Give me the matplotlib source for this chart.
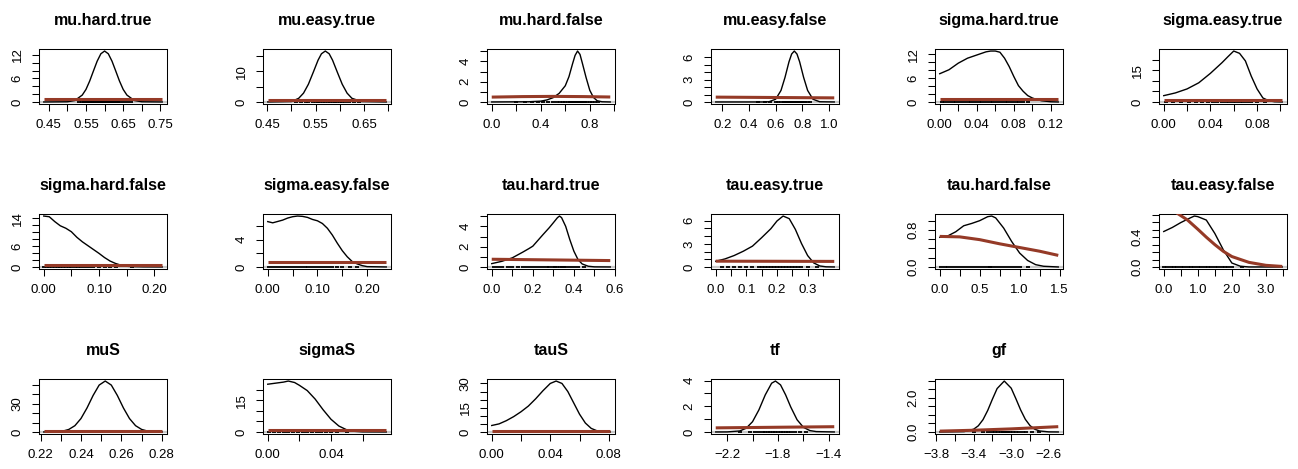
import matplotlib
matplotlib.use("Agg")
import matplotlib.pyplot as plt

plt.rcParams['font.family'] = ['Liberation Sans', 'DejaVu Sans']

PRIOR = '#953a27'

# ---- posterior densities (x, y), prior curves, rug samples, ticks ----
mu_hard_true_x = [0.4365, 0.50, 0.52, 0.54, 0.55, 0.56, 0.57, 0.58, 0.59, 0.60, 0.61, 0.62, 0.63, 0.64, 0.65, 0.66, 0.68, 0.70, 0.755]
mu_hard_true_y = [0.0, 0.05, 0.37, 1.76, 3.2, 5.35, 7.9, 10.4, 12.3, 13.0, 12.3, 10.4, 7.9, 5.35, 3.2, 1.76, 0.37, 0.05, 0.0]
mu_hard_true_px = [0.4365, 0.755]
mu_hard_true_py = [0.8, 0.8]
mu_hard_true_rug = [0.53, 0.54, 0.545, 0.55, 0.555, 0.56, 0.565, 0.57, 0.575, 0.58, 0.585, 0.59, 0.595, 0.60, 0.605, 0.61, 0.615, 0.62, 0.625, 0.63, 0.635, 0.64, 0.65, 0.66, 0.67]
mu_hard_true_xt = [0.45, 0.50, 0.55, 0.60, 0.65, 0.70, 0.75]
mu_hard_true_xl = ["0.45", "", "0.55", "", "0.65", "", "0.75"]
mu_hard_true_yt = [0, 2, 4, 6, 8, 10, 12]
mu_hard_true_yl = ["0", "", "", "6", "", "", "12"]

mu_easy_true_x = [0.451, 0.50, 0.515, 0.525, 0.535, 0.545, 0.555, 0.562, 0.57, 0.578, 0.585, 0.595, 0.605, 0.615, 0.625, 0.645, 0.696]
mu_easy_true_y = [0.0, 0.13, 1.2, 2.9, 5.8, 9.7, 13.7, 15.8, 16.7, 15.8, 13.7, 9.7, 5.8, 2.9, 1.2, 0.13, 0.0]
mu_easy_true_px = [0.451, 0.696]
mu_easy_true_py = [0.75, 0.75]
mu_easy_true_rug = [0.51, 0.52, 0.53, 0.535, 0.545, 0.55, 0.555, 0.56, 0.565, 0.57, 0.575, 0.58, 0.585, 0.59, 0.595, 0.60, 0.605, 0.61, 0.62, 0.63, 0.64]
mu_easy_true_xt = [0.45, 0.50, 0.55, 0.60, 0.65, 0.70]
mu_easy_true_xl = ["0.45", "", "0.55", "", "0.65", ""]
mu_easy_true_yt = [0, 5, 10, 15]
mu_easy_true_yl = ["0", "", "10", ""]

mu_hard_false_x = [0.0, 0.3, 0.4, 0.45, 0.5, 0.55, 0.6, 0.63, 0.66, 0.68, 0.70, 0.72, 0.74, 0.77, 0.80, 0.83, 0.86, 0.9, 0.967]
mu_hard_false_y = [0.0, 0.02, 0.08, 0.2, 0.42, 0.85, 1.6, 2.5, 3.8, 4.6, 5.03, 4.7, 3.8, 2.4, 1.15, 0.45, 0.12, 0.02, 0.0]
mu_hard_false_px = [0.0, 0.25, 0.5, 0.75, 0.967]
mu_hard_false_py = [0.48, 0.53, 0.55, 0.53, 0.49]
mu_hard_false_rug = [0.2, 0.27, 0.33, 0.38, 0.42, 0.46, 0.5, 0.53, 0.56, 0.58, 0.6, 0.62, 0.64, 0.65, 0.66, 0.67, 0.68, 0.69, 0.7, 0.71, 0.72, 0.73, 0.74, 0.75, 0.76, 0.78, 0.8, 0.82, 0.84, 0.87]
mu_hard_false_xt = [0.0, 0.2, 0.4, 0.6, 0.8, 1.0]
mu_hard_false_xl = ["0.0", "", "0.4", "", "0.8", ""]
mu_hard_false_yt = [0, 1, 2, 3, 4, 5]
mu_hard_false_yl = ["0", "", "2", "", "4", ""]

mu_easy_false_x = [0.15, 0.5, 0.55, 0.6, 0.64, 0.67, 0.70, 0.72, 0.74, 0.76, 0.78, 0.81, 0.84, 0.88, 0.93, 1.04]
mu_easy_false_y = [0.0, 0.0, 0.03, 0.37, 1.55, 3.3, 5.4, 6.45, 6.85, 6.45, 5.4, 3.3, 1.55, 0.37, 0.03, 0.0]
mu_easy_false_px = [0.15, 1.04]
mu_easy_false_py = [0.65, 0.55]
mu_easy_false_rug = [0.47, 0.52, 0.56, 0.6, 0.62, 0.64, 0.66, 0.67, 0.68, 0.69, 0.7, 0.71, 0.72, 0.73, 0.74, 0.75, 0.76, 0.77, 0.78, 0.79, 0.8, 0.81, 0.82, 0.84, 0.86]
mu_easy_false_xt = [0.2, 0.4, 0.6, 0.8, 1.0]
mu_easy_false_xl = ["0.2", "0.4", "0.6", "0.8", "1.0"]
mu_easy_false_yt = [0, 1, 2, 3, 4, 5, 6]
mu_easy_false_yl = ["0", "", "", "3", "", "", "6"]

sigma_hard_true_x = [0.0, 0.01, 0.02, 0.03, 0.04, 0.05, 0.055, 0.06, 0.065, 0.07, 0.075, 0.08, 0.085, 0.09, 0.095, 0.1, 0.105, 0.11, 0.12, 0.128]
sigma_hard_true_y = [7.1, 8.1, 9.75, 11.0, 11.8, 12.6, 12.8, 12.8, 12.5, 11.0, 8.9, 6.4, 4.1, 2.7, 1.6, 1.0, 0.6, 0.3, 0.05, 0.0]
sigma_hard_true_px = [0.0, 0.128]
sigma_hard_true_py = [0.75, 0.75]
sigma_hard_true_rug = [0.002, 0.006, 0.01, 0.014, 0.018, 0.022, 0.026, 0.03, 0.034, 0.038, 0.042, 0.046, 0.05, 0.054, 0.058, 0.062, 0.066, 0.07, 0.074, 0.078, 0.082, 0.086, 0.09, 0.095]
sigma_hard_true_xt = [0.0, 0.02, 0.04, 0.06, 0.08, 0.10, 0.12]
sigma_hard_true_xl = ["0.00", "", "0.04", "", "0.08", "", "0.12"]
sigma_hard_true_yt = [0, 2, 4, 6, 8, 10, 12]
sigma_hard_true_yl = ["0", "", "", "6", "", "", "12"]

sigma_easy_true_x = [0.0, 0.01, 0.02, 0.03, 0.04, 0.05, 0.055, 0.06, 0.065, 0.07, 0.075, 0.08, 0.085, 0.09, 0.095, 0.1016]
sigma_easy_true_y = [3.0, 4.3, 6.2, 9.1, 13.6, 18.7, 21.5, 24.2, 23.1, 19.5, 12.3, 6.2, 1.9, 0.6, 0.1, 0.0]
sigma_easy_true_px = [0.0, 0.1016]
sigma_easy_true_py = [1.1, 1.1]
sigma_easy_true_rug = [0.002, 0.008, 0.015, 0.022, 0.028, 0.033, 0.038, 0.042, 0.046, 0.05, 0.053, 0.056, 0.059, 0.062, 0.065, 0.068, 0.071, 0.075, 0.08, 0.087]
sigma_easy_true_xt = [0.0, 0.02, 0.04, 0.06, 0.08, 0.10]
sigma_easy_true_xl = ["0.00", "", "0.04", "", "0.08", ""]
sigma_easy_true_yt = [0, 5, 10, 15, 20]
sigma_easy_true_yl = ["0", "", "", "15", ""]

sigma_hard_false_x = [0.0, 0.01, 0.02, 0.03, 0.04, 0.05, 0.06, 0.07, 0.08, 0.09, 0.1, 0.11, 0.12, 0.13, 0.14, 0.15, 0.16, 0.18, 0.2145]
sigma_hard_false_y = [14.6, 14.4, 13.0, 11.8, 11.1, 10.1, 8.5, 7.2, 6.1, 5.0, 3.9, 2.7, 1.7, 1.0, 0.5, 0.2, 0.1, 0.03, 0.0]
sigma_hard_false_px = [0.0, 0.2145]
sigma_hard_false_py = [0.7, 0.7]
sigma_hard_false_rug = [0.001, 0.005, 0.01, 0.015, 0.02, 0.025, 0.03, 0.035, 0.04, 0.045, 0.05, 0.056, 0.062, 0.068, 0.075, 0.082, 0.09, 0.1, 0.11, 0.12, 0.13, 0.16]
sigma_hard_false_xt = [0.0, 0.05, 0.10, 0.15, 0.20]
sigma_hard_false_xl = ["0.00", "", "0.10", "", "0.20"]
sigma_hard_false_yt = [0, 2, 4, 6, 8, 10, 12, 14]
sigma_hard_false_yl = ["0", "", "", "6", "", "", "", "14"]

sigma_easy_false_x = [0.0, 0.01, 0.02, 0.03, 0.04, 0.05, 0.06, 0.07, 0.08, 0.09, 0.1, 0.11, 0.12, 0.13, 0.14, 0.15, 0.16, 0.17, 0.18, 0.19, 0.2, 0.2385]
sigma_easy_false_y = [6.68, 6.5, 6.7, 6.9, 7.2, 7.4, 7.5, 7.45, 7.3, 7.0, 6.8, 6.4, 5.7, 4.7, 3.5, 2.4, 1.5, 0.8, 0.45, 0.2, 0.05, 0.0]
sigma_easy_false_px = [0.0, 0.2385]
sigma_easy_false_py = [0.73, 0.73]
sigma_easy_false_rug = [0.002, 0.01, 0.018, 0.026, 0.034, 0.042, 0.05, 0.058, 0.066, 0.074, 0.082, 0.09, 0.098, 0.106, 0.114, 0.122, 0.13, 0.14, 0.15, 0.165, 0.18]
sigma_easy_false_xt = [0.0, 0.05, 0.10, 0.15, 0.20]
sigma_easy_false_xl = ["0.00", "", "0.10", "", "0.20"]
sigma_easy_false_yt = [0, 2, 4, 6]
sigma_easy_false_yl = ["0", "", "4", ""]

tau_hard_true_x = [0.0, 0.05, 0.1, 0.15, 0.18, 0.2, 0.25, 0.28, 0.3, 0.32, 0.33, 0.34, 0.36, 0.38, 0.4, 0.42, 0.44, 0.47, 0.5, 0.577]
tau_hard_true_y = [0.33, 0.56, 0.9, 1.45, 1.8, 2.05, 3.2, 3.87, 4.36, 4.86, 5.02, 4.86, 4.0, 2.7, 1.55, 0.73, 0.3, 0.07, 0.01, 0.0]
tau_hard_true_px = [0.0, 0.577]
tau_hard_true_py = [0.76, 0.63]
tau_hard_true_rug = [0.01, 0.03, 0.05, 0.08, 0.1, 0.13, 0.15, 0.17, 0.19, 0.21, 0.23, 0.25, 0.27, 0.28, 0.3, 0.31, 0.32, 0.33, 0.34, 0.35, 0.36, 0.38, 0.4, 0.42, 0.45]
tau_hard_true_xt = [0.0, 0.1, 0.2, 0.3, 0.4, 0.5, 0.6]
tau_hard_true_xl = ["0.0", "", "0.2", "", "0.4", "", "0.6"]
tau_hard_true_yt = [0, 1, 2, 3, 4, 5]
tau_hard_true_yl = ["0", "", "2", "", "4", ""]

tau_easy_true_x = [0.0, 0.03, 0.06, 0.09, 0.12, 0.15, 0.18, 0.2, 0.22, 0.24, 0.26, 0.28, 0.3, 0.32, 0.34, 0.36, 0.387]
tau_easy_true_y = [0.74, 1.04, 1.48, 2.04, 2.7, 3.8, 4.96, 5.96, 6.6, 6.26, 4.87, 3.04, 1.48, 0.52, 0.13, 0.02, 0.0]
tau_easy_true_px = [0.0, 0.387]
tau_easy_true_py = [0.75, 0.72]
tau_easy_true_rug = [0.02, 0.04, 0.06, 0.08, 0.1, 0.12, 0.14, 0.15, 0.16, 0.17, 0.18, 0.19, 0.2, 0.21, 0.22, 0.23, 0.24, 0.25, 0.26, 0.27, 0.28, 0.3, 0.33]
tau_easy_true_xt = [0.0, 0.05, 0.1, 0.15, 0.2, 0.25, 0.3, 0.35]
tau_easy_true_xl = ["0.0", "", "0.1", "", "0.2", "", "0.3", ""]
tau_easy_true_yt = [0, 1, 2, 3, 4, 5, 6]
tau_easy_true_yl = ["0", "", "", "3", "", "", "6"]

tau_hard_false_x = [0.0, 0.1, 0.2, 0.3, 0.4, 0.5, 0.6, 0.65, 0.7, 0.8, 0.9, 1.0, 1.1, 1.2, 1.3, 1.483]
tau_hard_false_y = [0.64, 0.67, 0.76, 0.89, 0.94, 1.0, 1.086, 1.1, 1.06, 0.84, 0.55, 0.3, 0.14, 0.05, 0.015, 0.0]
tau_hard_false_px = [0.0, 0.25, 0.5, 0.75, 1.0, 1.25, 1.483]
tau_hard_false_py = [0.66, 0.65, 0.59, 0.5, 0.42, 0.34, 0.25]
tau_hard_false_rug = [0.02, 0.06, 0.1, 0.15, 0.2, 0.25, 0.3, 0.35, 0.4, 0.45, 0.5, 0.55, 0.6, 0.63, 0.66, 0.7, 0.75, 0.8, 0.85, 0.9, 0.95, 1.0, 1.1]
tau_hard_false_xt = [0.0, 0.25, 0.5, 0.75, 1.0, 1.25, 1.5]
tau_hard_false_xl = ["0.0", "", "0.5", "", "1.0", "", "1.5"]
tau_hard_false_yt = [0.0, 0.2, 0.4, 0.6, 0.8, 1.0]
tau_hard_false_yl = ["0.0", "", "", "", "0.8", ""]

tau_easy_false_x = [0.0, 0.25, 0.5, 0.75, 0.9, 1.0, 1.25, 1.5, 1.75, 2.0, 2.25, 2.5, 3.48]
tau_easy_false_y = [0.476, 0.53, 0.596, 0.653, 0.684, 0.676, 0.63, 0.45, 0.23, 0.053, 0.01, 0.0, 0.0]
tau_easy_false_px = [0.0, 0.25, 0.4, 0.7, 1.0, 1.25, 1.5, 1.75, 2.0, 2.5, 3.0, 3.48]
tau_easy_false_py = [0.8, 0.77, 0.72, 0.63, 0.507, 0.4, 0.3, 0.21, 0.14, 0.062, 0.022, 0.007]
tau_easy_false_rug = [0.02, 0.1, 0.2, 0.3, 0.4, 0.5, 0.6, 0.7, 0.8, 0.9, 1.0, 1.1, 1.2, 1.3, 1.4, 1.5, 1.6, 1.7, 1.8, 1.9, 2.0, 2.3]
tau_easy_false_xt = [0.0, 0.5, 1.0, 1.5, 2.0, 2.5, 3.0, 3.5]
tau_easy_false_xl = ["0.0", "", "1.0", "", "2.0", "", "3.0", ""]
tau_easy_false_yt = [0.0, 0.1, 0.2, 0.3, 0.4, 0.5, 0.6, 0.7]
tau_easy_false_yl = ["0.0", "", "", "", "0.4", "", "", ""]

muS_x = [0.2216, 0.226, 0.231, 0.234, 0.237, 0.24, 0.243, 0.246, 0.249, 0.252, 0.255, 0.258, 0.261, 0.264, 0.267, 0.27, 0.273, 0.278, 0.2802]
muS_y = [0.0, 0.1, 0.9, 2.7, 6.7, 14.3, 25.6, 38.9, 50.0, 54.3, 50.0, 38.9, 25.6, 14.3, 6.7, 2.7, 0.9, 0.1, 0.0]
muS_px = [0.2216, 0.2802]
muS_py = [0.7, 0.7]
muS_rug = [0.235, 0.24, 0.243, 0.245, 0.247, 0.249, 0.25, 0.251, 0.252, 0.253, 0.254, 0.255, 0.257, 0.259, 0.261, 0.263, 0.266, 0.27]
muS_xt = [0.22, 0.23, 0.24, 0.25, 0.26, 0.27, 0.28]
muS_xl = ["0.22", "", "0.24", "", "0.26", "", "0.28"]
muS_yt = [0, 10, 20, 30, 40, 50]
muS_yl = ["0", "", "", "30", "", ""]

sigmaS_x = [0.0, 0.005, 0.01, 0.013, 0.017, 0.02, 0.025, 0.03, 0.035, 0.04, 0.045, 0.05, 0.055, 0.06, 0.075]
sigmaS_y = [22.5, 23.0, 23.5, 24.0, 23.3, 22.0, 19.5, 15.5, 10.5, 6.0, 2.8, 1.0, 0.3, 0.05, 0.0]
sigmaS_px = [0.0, 0.075]
sigmaS_py = [0.7, 0.7]
sigmaS_rug = [0.001, 0.004, 0.007, 0.01, 0.013, 0.016, 0.019, 0.022, 0.025, 0.028, 0.031, 0.034, 0.037, 0.04, 0.044, 0.05]
sigmaS_xt = [0.0, 0.02, 0.04, 0.06]
sigmaS_xl = ["0.00", "", "0.04", ""]
sigmaS_yt = [0, 5, 10, 15, 20]
sigmaS_yl = ["0", "", "", "15", ""]

tauS_x = [0.0, 0.005, 0.01, 0.015, 0.02, 0.025, 0.03, 0.035, 0.04, 0.044, 0.048, 0.052, 0.056, 0.06, 0.064, 0.068, 0.072, 0.076, 0.081]
tauS_y = [4.0, 5.0, 7.0, 9.5, 12.5, 16.0, 20.5, 25.5, 30.0, 31.5, 30.0, 25.0, 18.0, 11.0, 5.5, 2.2, 0.7, 0.2, 0.0]
tauS_px = [0.0, 0.081]
tauS_py = [0.8, 0.8]
tauS_rug = [0.003, 0.01, 0.016, 0.022, 0.027, 0.031, 0.035, 0.038, 0.041, 0.043, 0.045, 0.047, 0.049, 0.051, 0.053, 0.056, 0.06, 0.065, 0.07]
tauS_xt = [0.0, 0.02, 0.04, 0.06, 0.08]
tauS_xl = ["0.00", "", "0.04", "", "0.08"]
tauS_yt = [0, 5, 10, 15, 20, 25, 30]
tauS_yl = ["0", "", "", "15", "", "", "30"]

tf_x = [-2.289, -2.2, -2.1, -2.05, -2.0, -1.95, -1.9, -1.85, -1.82, -1.78, -1.74, -1.7, -1.65, -1.6, -1.55, -1.5, -1.358]
tf_y = [0.0, 0.003, 0.08, 0.29, 0.8, 1.72, 2.89, 3.8, 3.97, 3.67, 2.89, 1.95, 0.95, 0.36, 0.11, 0.03, 0.0]
tf_px = [-2.289, -1.358]
tf_py = [0.32, 0.41]
tf_rug = [-2.1, -2.02, -1.98, -1.95, -1.92, -1.9, -1.88, -1.86, -1.84, -1.82, -1.8, -1.78, -1.76, -1.74, -1.72, -1.7, -1.67, -1.63, -1.58]
tf_xt = [-2.2, -2.0, -1.8, -1.6, -1.4]
tf_xl = ["\u22122.2", "", "\u22121.8", "", "\u22121.4"]
tf_yt = [0, 1, 2, 3, 4]
tf_yl = ["0", "", "2", "", "4"]

gf_x = [-3.76, -3.5, -3.4, -3.35, -3.3, -3.25, -3.2, -3.15, -3.074, -3.0, -2.95, -2.9, -2.85, -2.8, -2.75, -2.7, -2.6, -2.5]
gf_y = [0.0, 0.02, 0.16, 0.36, 0.72, 1.26, 1.92, 2.54, 2.98, 2.56, 1.94, 1.29, 0.74, 0.37, 0.16, 0.06, 0.005, 0.0]
gf_px = [-3.76, -3.4, -3.0, -2.5]
gf_py = [0.05, 0.1, 0.18, 0.31]
gf_rug = [-3.4, -3.3, -3.25, -3.2, -3.17, -3.14, -3.11, -3.09, -3.07, -3.05, -3.03, -3.01, -2.98, -2.95, -2.92, -2.88, -2.84, -2.78, -2.7]
gf_xt = [-3.8, -3.6, -3.4, -3.2, -3.0, -2.8, -2.6]
gf_xl = ["\u22123.8", "", "\u22123.4", "", "\u22123.0", "", "\u22122.6"]
gf_yt = [0.0, 0.5, 1.0, 1.5, 2.0, 2.5, 3.0]
gf_yl = ["0.0", "", "", "", "2.0", "", ""]

panels = [
    ("mu.hard.true", mu_hard_true_x, mu_hard_true_y, mu_hard_true_px, mu_hard_true_py, mu_hard_true_rug, mu_hard_true_xt, mu_hard_true_xl, mu_hard_true_yt, mu_hard_true_yl),
    ("mu.easy.true", mu_easy_true_x, mu_easy_true_y, mu_easy_true_px, mu_easy_true_py, mu_easy_true_rug, mu_easy_true_xt, mu_easy_true_xl, mu_easy_true_yt, mu_easy_true_yl),
    ("mu.hard.false", mu_hard_false_x, mu_hard_false_y, mu_hard_false_px, mu_hard_false_py, mu_hard_false_rug, mu_hard_false_xt, mu_hard_false_xl, mu_hard_false_yt, mu_hard_false_yl),
    ("mu.easy.false", mu_easy_false_x, mu_easy_false_y, mu_easy_false_px, mu_easy_false_py, mu_easy_false_rug, mu_easy_false_xt, mu_easy_false_xl, mu_easy_false_yt, mu_easy_false_yl),
    ("sigma.hard.true", sigma_hard_true_x, sigma_hard_true_y, sigma_hard_true_px, sigma_hard_true_py, sigma_hard_true_rug, sigma_hard_true_xt, sigma_hard_true_xl, sigma_hard_true_yt, sigma_hard_true_yl),
    ("sigma.easy.true", sigma_easy_true_x, sigma_easy_true_y, sigma_easy_true_px, sigma_easy_true_py, sigma_easy_true_rug, sigma_easy_true_xt, sigma_easy_true_xl, sigma_easy_true_yt, sigma_easy_true_yl),
    ("sigma.hard.false", sigma_hard_false_x, sigma_hard_false_y, sigma_hard_false_px, sigma_hard_false_py, sigma_hard_false_rug, sigma_hard_false_xt, sigma_hard_false_xl, sigma_hard_false_yt, sigma_hard_false_yl),
    ("sigma.easy.false", sigma_easy_false_x, sigma_easy_false_y, sigma_easy_false_px, sigma_easy_false_py, sigma_easy_false_rug, sigma_easy_false_xt, sigma_easy_false_xl, sigma_easy_false_yt, sigma_easy_false_yl),
    ("tau.hard.true", tau_hard_true_x, tau_hard_true_y, tau_hard_true_px, tau_hard_true_py, tau_hard_true_rug, tau_hard_true_xt, tau_hard_true_xl, tau_hard_true_yt, tau_hard_true_yl),
    ("tau.easy.true", tau_easy_true_x, tau_easy_true_y, tau_easy_true_px, tau_easy_true_py, tau_easy_true_rug, tau_easy_true_xt, tau_easy_true_xl, tau_easy_true_yt, tau_easy_true_yl),
    ("tau.hard.false", tau_hard_false_x, tau_hard_false_y, tau_hard_false_px, tau_hard_false_py, tau_hard_false_rug, tau_hard_false_xt, tau_hard_false_xl, tau_hard_false_yt, tau_hard_false_yl),
    ("tau.easy.false", tau_easy_false_x, tau_easy_false_y, tau_easy_false_px, tau_easy_false_py, tau_easy_false_rug, tau_easy_false_xt, tau_easy_false_xl, tau_easy_false_yt, tau_easy_false_yl),
    ("muS", muS_x, muS_y, muS_px, muS_py, muS_rug, muS_xt, muS_xl, muS_yt, muS_yl),
    ("sigmaS", sigmaS_x, sigmaS_y, sigmaS_px, sigmaS_py, sigmaS_rug, sigmaS_xt, sigmaS_xl, sigmaS_yt, sigmaS_yl),
    ("tauS", tauS_x, tauS_y, tauS_px, tauS_py, tauS_rug, tauS_xt, tauS_xl, tauS_yt, tauS_yl),
    ("tf", tf_x, tf_y, tf_px, tf_py, tf_rug, tf_xt, tf_xl, tf_yt, tf_yl),
    ("gf", gf_x, gf_y, gf_px, gf_py, gf_rug, gf_xt, gf_xl, gf_yt, gf_yl),
]

W, H = 1298, 469
fig = plt.figure(figsize=(W / 100, H / 100), dpi=100)

for i, (title, dx, dy, px, py, rug, xt, xl, yt, yl) in enumerate(panels):
    row, col = divmod(i, 6)
    left = 39 + 224 * col
    top = 49 + 165 * row
    ax = fig.add_axes([left / W, 1 - (top + 55) / H, 128 / W, 55 / H])

    lo, hi = min(dx), max(dx)
    r = hi - lo
    peak = max(dy)
    ax.set_xlim(lo - 0.04 * r, hi + 0.04 * r)
    ax.set_ylim(-0.04 * peak, 1.04 * peak)

    # zero line, density, rug, prior
    ax.axhline(0, color='#c8c8c8', lw=1.6, zorder=1)
    ax.plot(dx, dy, color='black', lw=1.0, zorder=2)
    ax.plot(rug, [0] * len(rug), '_', color='black', ms=3, mew=1.3, zorder=3)
    ax.plot(px, py, color=PRIOR, lw=2.2, solid_capstyle='butt', zorder=4)

    ax.set_xticks(xt)
    ax.set_xticklabels(xl)
    ax.set_yticks(yt)
    ax.set_yticklabels(yl)
    ax.tick_params(direction='out', length=5, width=0.75, labelsize=9.5, pad=6)
    plt.setp(ax.get_yticklabels(), rotation=90, va='center')
    for s in ax.spines.values():
        s.set_linewidth(0.75)
    ax.set_title(title, fontsize=11.5, fontweight='bold', pad=17)

fig.savefig("out.png", dpi=100)
